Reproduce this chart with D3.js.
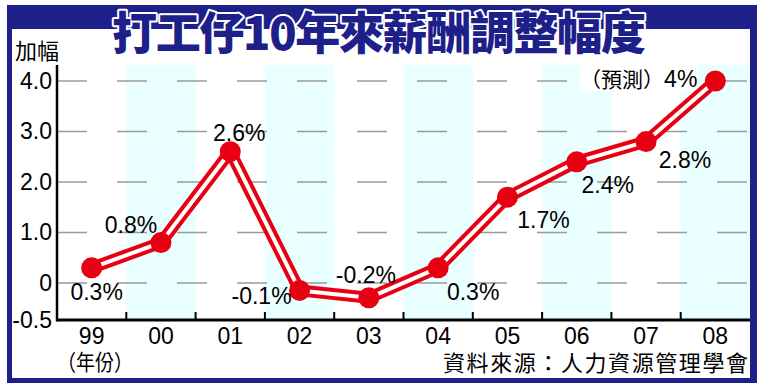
<!DOCTYPE html>
<html>
<head>
<meta charset="utf-8">
<script src="https://cdn.jsdelivr.net/npm/d3@7"></script>
<style>
  body { margin: 0; background: #fff; }
  svg { display: block; }
  text { font-family: "Liberation Sans", Arial, sans-serif; }
  .cjk { font-family: "Noto Sans CJK TC", "Noto Sans CJK SC", sans-serif; }
</style>
</head>
<body>
<svg id="canvas"></svg>
<script>
const years = ["99", "00", "01", "02", "03", "04", "05", "06", "07", "08"]
const rises = [0.3, 0.8, 2.6, -0.1, -0.2, 0.3, 1.7, 2.4, 2.8, 4.0]
const labels = ["0.3%", "0.8%", "2.6%", "-0.1%", "-0.2%", "0.3%", "1.7%", "2.4%", "2.8%", "4%"]
const yTicks = [-0.5, 0, 1, 2, 3, 4]
const yTickLabels = ["-0.5", "0", "1.0", "2.0", "3.0", "4.0"]

// where each value label sits relative to its point
const labelOffsets = [[5, 32], [-30, -10], [9, -11], [-38, 14], [-3, -15], [35, 32], [36, 31], [31, 31], [39, 26], [-18, 6]]

const width = 762
const height = 390
const blue = "#1d2088"
const red = "#e60012"

const plotLeft = 57
const plotRight = 750
const plotTop = 65
const plotBottom = 320

const canvas = d3.select("#canvas").attr("width", width).attr("height", height)

// frame
canvas.append("rect").attr("x", 7).attr("y", 5).attr("width", 750).attr("height", 378).attr("fill", blue)
canvas.append("rect").attr("x", 12).attr("y", 29).attr("width", 738).attr("height", 349).attr("fill", "#fff")

const xScale = d3.scaleBand().domain(years).range([plotLeft, plotRight])
// axis bottom is drawn at -0.5 a bit lower than the linear spot, as in the print
const yScale = d3.scaleLinear().domain([-0.5, 0, 4]).range([plotBottom, 283, 81])
const cx = (d, i) => xScale(years[i]) + xScale.bandwidth() / 2

// alternating bands
canvas.selectAll(".band")
  .data(years.filter((d, i) => i % 2 == 1))
  .enter()
  .append("rect")
  .attr("class", "band")
  .attr("x", d => xScale(d))
  .attr("y", plotTop)
  .attr("width", xScale.bandwidth())
  .attr("height", plotBottom - plotTop)
  .attr("fill", "#eaffff")

// dashed grid
canvas.selectAll(".grid")
  .data(yTicks.filter(d => d >= 0))
  .enter()
  .append("line")
  .attr("x1", plotLeft).attr("x2", plotRight)
  .attr("y1", d => yScale(d)).attr("y2", d => yScale(d))
  .attr("stroke", "#9a9a9a")
  .attr("stroke-width", 1.5)
  .attr("stroke-dasharray", "30,30")

// axes
const xAxis = d3.axisBottom(xScale).tickSize(0).tickPadding(3)
const gx = canvas.append("g")
  .attr("transform", "translate(0," + plotBottom + ")")
  .call(xAxis)
gx.select(".domain").remove()
gx.selectAll("text").attr("font-size", 23).attr("fill", "#000").attr("dy", "0.9em")
  .attr("font-family", "Liberation Sans, Arial, sans-serif")

canvas.selectAll(".xtick")
  .data(years.slice(1))
  .enter()
  .append("line")
  .attr("x1", d => xScale(d)).attr("x2", d => xScale(d))
  .attr("y1", plotBottom - 8).attr("y2", plotBottom)
  .attr("stroke", "#000").attr("stroke-width", 2)

const yAxis = d3.axisLeft(yScale).tickValues(yTicks).tickSize(0).tickPadding(5)
  .tickFormat((d, i) => yTickLabels[i])
const gy = canvas.append("g")
  .attr("transform", "translate(" + plotLeft + ",0)")
  .call(yAxis)
gy.select(".domain").remove()
gy.selectAll("text").attr("font-size", 23).attr("fill", "#000")
  .attr("font-family", "Liberation Sans, Arial, sans-serif")

canvas.append("line").attr("x1", plotLeft).attr("x2", plotLeft).attr("y1", plotTop).attr("y2", plotBottom + 1.5)
  .attr("stroke", "#000").attr("stroke-width", 2.5)
canvas.append("line").attr("x1", plotLeft).attr("x2", plotRight).attr("y1", plotBottom).attr("y2", plotBottom)
  .attr("stroke", "#000").attr("stroke-width", 3)

// double line
const line = d3.line().x(cx).y(d => yScale(d))
canvas.append("path").datum(rises).attr("d", line)
  .attr("fill", "none").attr("stroke", red).attr("stroke-width", 12).attr("stroke-linejoin", "round")
canvas.append("path").datum(rises).attr("d", line)
  .attr("fill", "none").attr("stroke", "#fff").attr("stroke-width", 4).attr("stroke-linejoin", "round")

canvas.selectAll(".dot")
  .data(rises)
  .enter()
  .append("circle")
  .attr("cx", cx)
  .attr("cy", d => yScale(d))
  .attr("r", 10.5)
  .attr("fill", red)

// value labels
const last = rises.length - 1
const lab = canvas.selectAll(".lab")
  .data(rises)
  .enter()
  .append("text")
  .attr("x", (d, i) => cx(d, i) + labelOffsets[i][0])
  .attr("y", (d, i) => yScale(d) + labelOffsets[i][1])
  .attr("text-anchor", (d, i) => i == last ? "end" : "middle")
  .attr("font-size", 23)
  .attr("fill", "#000")
lab.filter((d, i) => i == last).append("tspan").attr("class", "cjk").attr("font-size", 21).text("（預測）")
lab.append("tspan").text((d, i) => labels[i])

lab.filter((d, i) => i == last).each(function () {
  const b = this.getBBox()
  canvas.insert("rect", "path").attr("x", b.x).attr("y", b.y + 2).attr("width", b.width).attr("height", b.height - 4)
    .attr("fill", "#fff")
})

// texts
canvas.append("text").attr("class", "cjk").attr("x", 15).attr("y", 59).attr("font-size", 22).text("加幅")
canvas.append("text").attr("class", "cjk").attr("x", 57).attr("y", 370).attr("font-size", 22)
  .attr("textLength", 76).attr("lengthAdjust", "spacingAndGlyphs").text("（年份）")
canvas.append("text").attr("class", "cjk").attr("x", 443).attr("y", 371).attr("font-size", 22)
  .attr("textLength", 305).text("資料來源：人力資源管理學會")

canvas.append("text").attr("class", "cjk")
  .attr("x", 112).attr("y", 50)
  .attr("font-size", 45).attr("font-weight", 900)
  .attr("textLength", 534)
  .attr("fill", blue).attr("stroke", "#fff").attr("stroke-width", 4)
  .attr("paint-order", "stroke").attr("stroke-linejoin", "round")
  .text("打工仔10年來薪酬調整幅度")
</script>
</body>
</html>
